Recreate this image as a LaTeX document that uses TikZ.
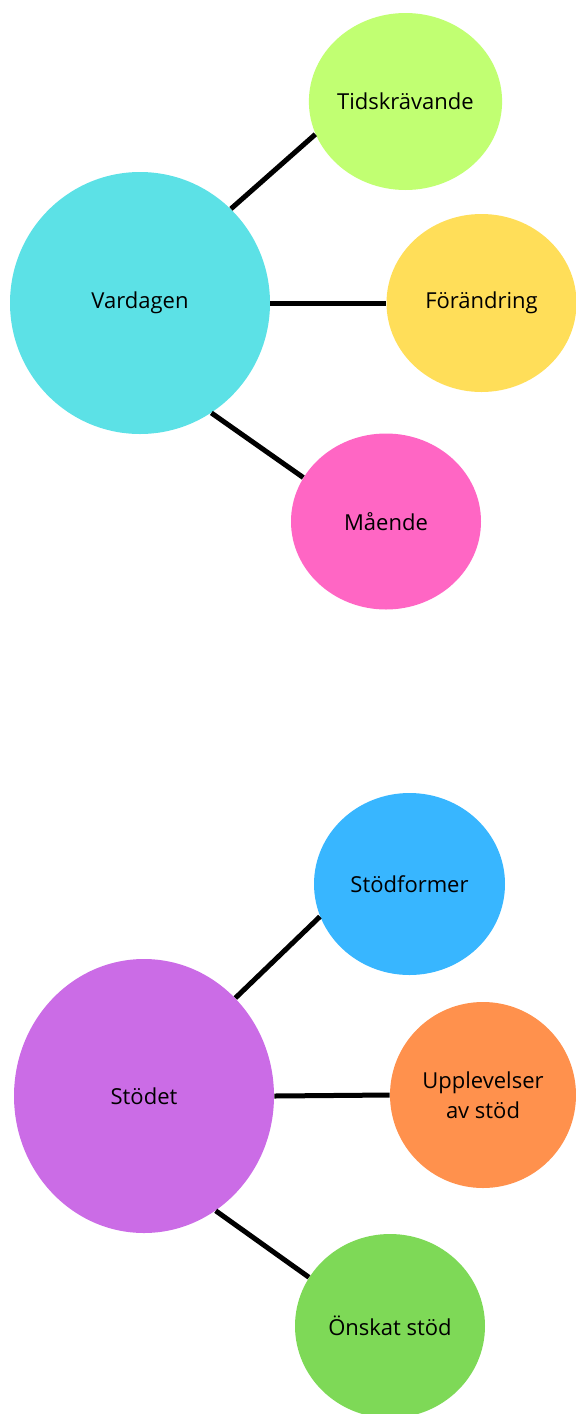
\documentclass[tikz,border=0pt]{standalone}
\usepackage{fontspec}
\setmainfont{Open Sans}
\usepackage{xcolor}
\usepackage{tikz}
\usetikzlibrary{shapes.geometric,positioning}
\definecolor{vardcyan}{HTML}{5CE1E6}
\definecolor{tidsgreen}{HTML}{C1FF72}
\definecolor{foeryellow}{HTML}{FFDE59}
\definecolor{maapink}{HTML}{FF66C4}
\definecolor{stodpurple}{HTML}{CB6CE6}
\definecolor{formblue}{HTML}{38B6FF}
\definecolor{uppleorange}{HTML}{FF914D}
\definecolor{onskgreen}{HTML}{7ED957}

\begin{document}
\begin{tikzpicture}[x=0.5pt, y=-0.5pt,
    bubble/.style={ellipse, inner sep=0pt, align=center, font=\fontsize{11}{15}\selectfont},
    link/.style={line width=2.5pt, black}]
    \useasboundingbox (0,0) rectangle (576,1414);

    % Vardagen cluster
    \node[bubble, fill=vardcyan, minimum width=130pt, minimum height=131pt] (vard) at (140,303) {Vardagen};
    \node[bubble, fill=tidsgreen, minimum width=95.5pt, minimum height=88.5pt] (tids) at (405.5,101.5) {Tidskrävande};
    \node[bubble, fill=foeryellow, minimum width=95pt, minimum height=89pt] (foer) at (481.5,303) {Förändring};
    \node[bubble, fill=maapink, minimum width=95pt, minimum height=88pt] (maa) at (386,521.5) {Mående};

    \draw[link] (vard.46) -- (tids.200);
    \draw[link] (vard.east) -- (foer.west);
    \draw[link] (vard.-57) -- (maa.152);

    % Stödet cluster
    \node[bubble, fill=stodpurple, minimum width=130pt, minimum height=137pt] (stod) at (144,1096) {Stödet};
    \node[bubble, fill=formblue, minimum width=95.5pt, minimum height=91pt] (form) at (409.5,884) {Stödformer};
    \node[bubble, fill=uppleorange, minimum width=93pt, minimum height=93pt] (upple) at (483,1095) {Upplevelser\\av stöd};
    \node[bubble, fill=onskgreen, minimum width=95pt, minimum height=92pt] (onsk) at (390,1326) {Önskat stöd};

    \draw[link] (stod.47) -- (form.200);
    \draw[link] (stod.east) -- (upple.west);
    \draw[link] (stod.-58) -- (onsk.149);

\end{tikzpicture}
\end{document}
